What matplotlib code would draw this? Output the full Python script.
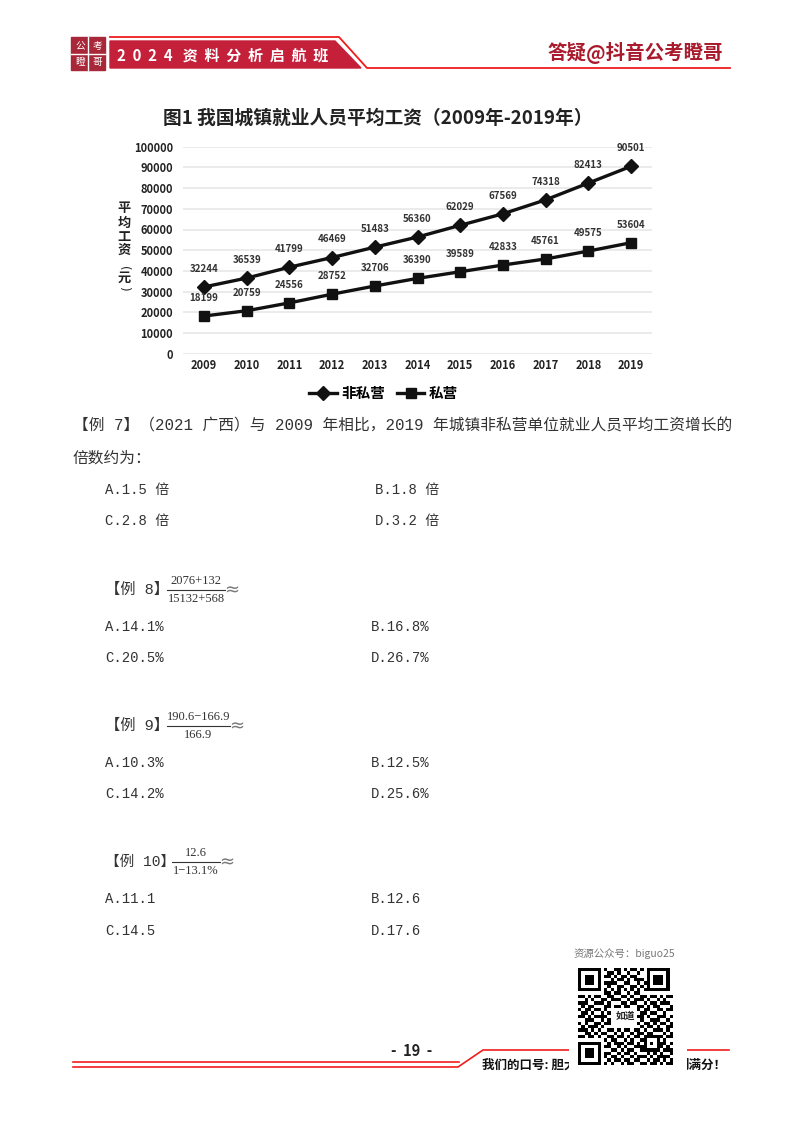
import matplotlib
matplotlib.use("Agg")
import matplotlib.pyplot as plt
import numpy as np
from matplotlib.patches import Polygon, Rectangle

plt.rcParams['font.family'] = ['Noto Sans CJK SC', 'DejaVu Sans']

# chart data
years = [2009, 2010, 2011, 2012, 2013, 2014, 2015, 2016, 2017, 2018, 2019]
non_private = [32244, 36539, 41799, 46469, 51483, 56360, 62029, 67569, 74318, 82413, 90501]
private = [18199, 20759, 24556, 28752, 32706, 36390, 39589, 42833, 45761, 49575, 53604]
y_ticks = [0, 10000, 20000, 30000, 40000, 50000, 60000, 70000, 80000, 90000, 100000]

# page text
chart_title = "图1 我国城镇就业人员平均工资（2009年-2019年）"
q7_line1 = "【例 7】（2021 广西）与 2009 年相比，2019 年城镇非私营单位就业人员平均工资增长的"
q7_line2 = "倍数约为："
q7_options = ["A.1.5 倍", "B.1.8 倍", "C.2.8 倍", "D.3.2 倍"]
q8_options = ["A.14.1%", "B.16.8%", "C.20.5%", "D.26.7%"]
q9_options = ["A.10.3%", "B.12.5%", "C.14.2%", "D.25.6%"]
q10_options = ["A.11.1", "B.12.6", "C.14.5", "D.17.6"]

# rough reading of the qr code, centre is left for the logo
qr_rows = [
    "11111110100110101101011111110",
    "10000010011010010010010000010",
    "10111010110101101100010111010",
    "10111010001011010111010111010",
    "10111010111100110010110111010",
    "10000010010011001101010000010",
    "11111110101010101010111111110",
    "00000000110110010110000000000",
    "11010110011001101001101101011",
    "00101001101110010111010010100",
    "11100111010001101100101101110",
    "01011000110110110011010110001",
    "10110110100000000010110011011",
    "01101001010000000001101100100",
    "11010111100000000011010011101",
    "00111001010000000001001110010",
    "10100110110000000010110101101",
    "01011101000000000001011010011",
    "11101010011010110110100111010",
    "00110101100101001011011000101",
    "11011010011011010110111111011",
    "00000000101100101001100010100",
    "11111110010111011010101011101",
    "10000010110010100111100011010",
    "10111010001101011001111110111",
    "10111010110010110100010101001",
    "10111010101101001011101011110",
    "10000010010110110110010110101",
    "11111110101001011001101101011",
]

RED = "#c4203a"
LINE_RED = "#f01c1c"
TEXT = "#333333"
W, H = 800, 1132
BODY = ['Liberation Mono', 'Noto Sans CJK SC']

fig = plt.figure(figsize=(W / 100, H / 100), dpi=100)
page = fig.add_axes([0, 0, 1, 1])
page.set_xlim(0, W)
page.set_ylim(H, 0)
page.axis("off")

# header
page.add_patch(Rectangle((71, 37), 34, 33, color="#a8283a"))
page.plot([88, 88], [37, 70], color="white", lw=1)
page.plot([71, 105], [53.5, 53.5], color="white", lw=1)
for x, y, s in [(80, 46, "公"), (97, 46, "考"), (80, 62, "瞪"), (97, 62, "哥")]:
    page.text(x, y, s, color="white", fontsize=7, ha="center", va="center")
page.add_patch(Polygon([(110, 41), (335, 41), (361, 68), (110, 68)], color=RED))
page.plot([110, 339, 367, 730], [37, 37, 68, 68], color=LINE_RED, lw=1.3)
page.text(117, 55.5, "2  0  2  4   资  料  分  析  启  航  班", color="white", fontsize=10.8,
          fontweight="bold", va="center")
page.text(723, 53, "答疑@抖音公考瞪哥", color="#a81a2c", fontsize=14, fontweight="bold",
          ha="right", va="center")

# chart
page.text(378, 118, chart_title, fontsize=13.5, fontweight="bold", ha="center", va="center", color="#222222")
left, right, top, bottom = 182.7, 652.3, 146.7, 353.7
ax = fig.add_axes([left / W, 1 - bottom / H, (right - left) / W, (bottom - top) / H])
x = np.arange(len(years))
ax.plot(x, non_private, color="#111111", lw=2.4, marker="D", ms=7.5, label="非私营", clip_on=False)
ax.plot(x, private, color="#111111", lw=2.4, marker="s", ms=7.5, label="私营", clip_on=False)
ax.set_xlim(-0.5, 10.5)
ax.set_ylim(0, 100000)
ax.set_yticks(y_ticks)
ax.set_xticks(x)
ax.set_xticklabels(years)
ax.tick_params(axis="x", length=0, labelsize=8, labelcolor="#222222", pad=4)
ax.tick_params(axis="y", length=0, labelsize=8, labelcolor="#222222", pad=7)
for lab in ax.get_xticklabels() + ax.get_yticklabels():
    lab.set_fontweight("bold")
ax.grid(axis="y", color="#e8e8e8", lw=1.2)
ax.set_axisbelow(True)
for s in ax.spines.values():
    s.set_visible(False)
for i, v in enumerate(non_private):
    ax.annotate(str(v), (i, v), xytext=(0, 13), textcoords="offset points", ha="center",
                va="center", fontsize=7, fontweight="bold", color="#333333")
for i, v in enumerate(private):
    ax.annotate(str(v), (i, v), xytext=(0, 13), textcoords="offset points", ha="center",
                va="center", fontsize=7, fontweight="bold", color="#333333")
ax.legend(loc="center", bbox_to_anchor=(0.4276, -0.19), ncol=2, frameon=False, handlelength=1.9,
          columnspacing=0.8, handletextpad=0.3, prop={"weight": "bold", "size": 10.5})
for yy, s in zip([208, 223, 237, 250, 278], "平均工资元"):
    page.text(124, yy, s, fontsize=9.5, fontweight="bold", ha="center", va="center", color="#222222")
page.text(124, 268, "(", fontsize=8.5, family="DejaVu Sans", ha="center", va="center", rotation=-90, color="#222222")
page.text(124, 288, ")", fontsize=8.5, family="DejaVu Sans", ha="center", va="center", rotation=-90, color="#222222")


def body(x, y, s, size=10):
    page.text(x, y, s, fontsize=size, color=TEXT, va="center", family=BODY)


def options(vals, y1, y2, x1=105, x2=371):
    body(x1, y1, vals[0])
    body(x2, y1, vals[1])
    body(x1, y2, vals[2])
    body(x2, y2, vals[3])


def fraction(x0, x1, y, top_s, bot_s):
    page.plot([x0, x1], [y, y], color=TEXT, lw=0.8)
    xc = (x0 + x1) / 2
    page.text(xc, y - 8.5, top_s, fontsize=9, family="Liberation Serif", ha="center", va="center", color=TEXT)
    page.text(xc, y + 9, bot_s, fontsize=9, family="Liberation Serif", ha="center", va="center", color=TEXT)
    page.text(x1 + 7, y, "≈", fontsize=13, family="DejaVu Sans", ha="center", va="center", color="#777777")


body(73, 426, q7_line1, 11.3)
body(73, 458, q7_line2, 11.3)
options(q7_options, 490, 521, x2=375)
body(105, 590, "【例 8】", 11)
fraction(167, 225, 590, "2076+132", "15132+568")
options(q8_options, 627, 658)
body(105, 726, "【例 9】", 11)
fraction(167, 230, 726, "190.6−166.9", "166.9")
options(q9_options, 763, 794)
body(105, 862, "【例 10】", 10.5)
fraction(172, 220, 862, "12.6", "1−13.1%")
options(q10_options, 899, 931)

# footer
page.plot([73, 459], [1062, 1062], color=LINE_RED, lw=1.2)
page.plot([73, 458, 483, 729], [1067, 1067, 1050, 1050], color=LINE_RED, lw=1.2)
page.text(412, 1051, "-  19  -", fontsize=10.5, fontweight="bold", ha="center", va="center", color="#222222")
page.text(482, 1065, "我们的口号: 胆大", fontsize=9, fontweight="bold", va="center", color="#111111")
page.text(727, 1065, "则满分！", fontsize=9, fontweight="bold", ha="right", va="center", color="#111111")

# qr code sits on top of the footer
page.text(624, 954, "资源公众号：biguo25", fontsize=7.5, color="#777777", ha="center", va="center")
qr = fig.add_axes([569 / W, 1 - 1071 / H, 118 / W, 107 / H], zorder=5)
qr_img = np.array([[int(c) for c in row] for row in qr_rows])
qr.imshow(qr_img, cmap="gray_r", interpolation="nearest", extent=(578, 673, 1065, 968), aspect="auto")
qr.set_xlim(569, 687)
qr.set_ylim(1071, 964)
qr.set_xticks([])
qr.set_yticks([])
for s in qr.spines.values():
    s.set_visible(False)
qr.text(625, 1016, "如道", fontsize=7, fontweight="bold", ha="center", va="center", color="#222222")

fig.savefig("out.png", dpi=100)
